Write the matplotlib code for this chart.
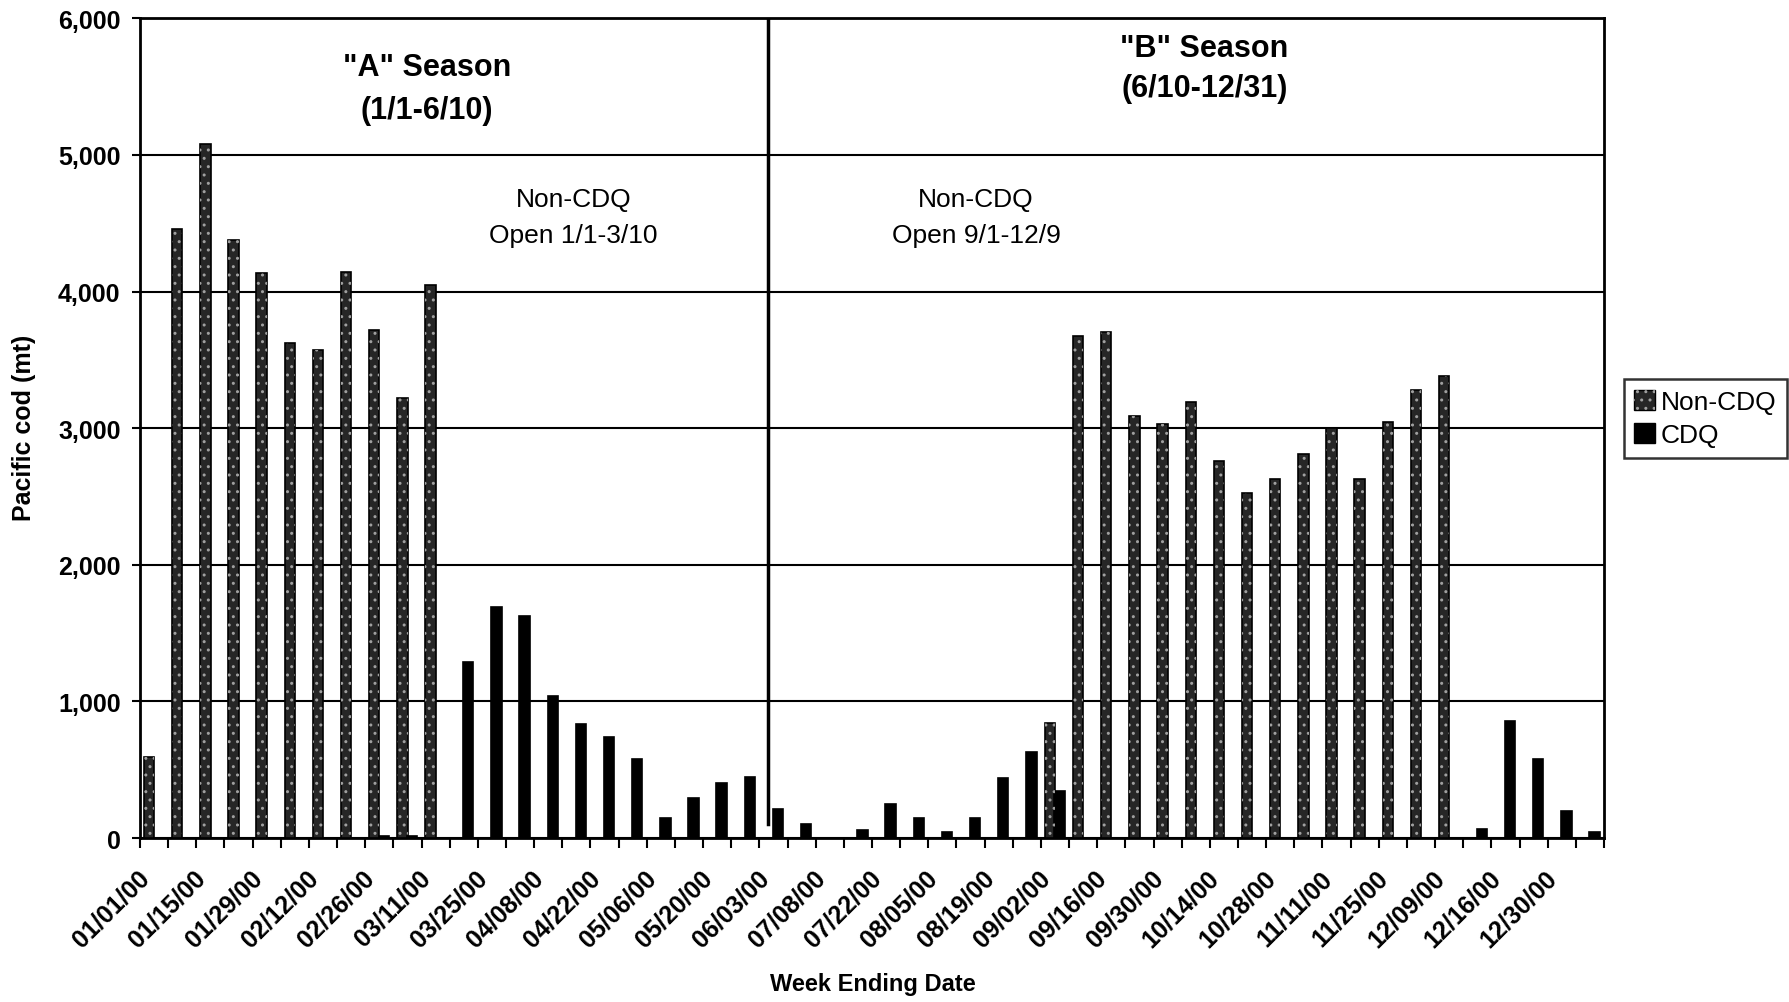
import matplotlib
matplotlib.use("Agg")
import matplotlib.pyplot as plt
import numpy as np
from matplotlib.legend_handler import HandlerTuple
from matplotlib.patches import Patch
from matplotlib.ticker import FuncFormatter

plt.rcParams['font.family'] = ['Liberation Sans', 'DejaVu Sans']

# ---- data ----
tick_labels = ["01/01/00", "01/15/00", "01/29/00", "02/12/00", "02/26/00", "03/11/00",
               "03/25/00", "04/08/00", "04/22/00", "05/06/00", "05/20/00", "06/03/00",
               "07/08/00", "07/22/00", "08/05/00", "08/19/00", "09/02/00", "09/16/00",
               "09/30/00", "10/14/00", "10/28/00", "11/11/00", "11/25/00", "12/09/00",
               "12/16/00", "12/30/00"]

non_cdq = [590, 4460, 5080, 4375, 4135, 3625, 3575, 4140, 3720, 3220, 4050,
           0, 0, 0, 0, 0, 0, 0, 0, 0, 0, 0, 0, 0, 0, 0, 0, 0, 0, 0, 0, 0,
           840, 3675, 3705, 3090, 3030, 3190, 2760, 2525, 2625, 2810, 3005,
           2625, 3045, 3280, 3385, 0, 0, 0, 0, 0]

cdq = [0, 0, 0, 0, 0, 0, 0, 0, 15, 15, 0,
       1285, 1690, 1625, 1040, 835, 738, 575, 145, 295, 402, 443,
       210, 100, 0, 60, 250, 150, 45, 150, 440, 630, 345,
       0, 0, 0, 0, 0, 0, 0, 0, 0, 0, 0, 0, 0, 0,
       65, 860, 580, 195, 45]

series_names = ["Non-CDQ", "CDQ"]
y_ticks = [0, 1000, 2000, 3000, 4000, 5000, 6000]

n = len(non_cdq)
x = np.arange(n)

fig = plt.figure(figsize=(17.9, 10.03), dpi=100)
ax = fig.add_axes([0.0782, 0.1635, 0.8179, 0.8172])

w = 0.37
ax.bar(x - 0.18, non_cdq, width=w, color='#262626', edgecolor='black', linewidth=1.2, zorder=3)
ax.bar(x - 0.18, non_cdq, width=w, fill=False, edgecolor='#a0a0a0', hatch='..', linewidth=0, zorder=4)
ax.bar(x + 0.16, cdq, width=w, color='black', edgecolor='black', linewidth=1.2, zorder=3)

ax.set_xlim(-0.5, n - 0.5)
ax.set_ylim(0, 6000)
ax.set_yticks(y_ticks)
ax.yaxis.set_major_formatter(FuncFormatter(lambda v, p: f"{int(v):,}"))
for t in ax.get_yticklabels():
    t.set_fontweight('bold')
ax.tick_params(axis='y', labelsize=18, length=6, width=1.5, pad=8, direction='out')

# x: tick marks at category boundaries, labels every other category
ax.set_xticks(np.arange(-0.5, n, 1.0))
ax.set_xticklabels([])
ax.tick_params(axis='x', which='major', length=7, width=1.5, direction='out')
ax.set_xticks(np.arange(0, n, 2) - 0.3, minor=True)
ax.set_xticklabels(tick_labels, minor=True, rotation=45, ha='right', va='center',
                   rotation_mode='anchor', fontsize=18, fontweight='bold')
ax.tick_params(axis='x', which='minor', length=0, pad=26)

ax.grid(axis='y', color='black', linewidth=1.5, zorder=1)
for s in ax.spines.values():
    s.set_linewidth(2)
    s.set_color('black')

# season divider
ax.plot([21.8, 21.8], [100, 6000], color='black', linewidth=2.5, zorder=5)

ax.text(9.7, 5644, '"A" Season', ha='center', va='center', fontsize=22, fontweight='bold')
ax.text(9.7, 5329, '(1/1-6/10)', ha='center', va='center', fontsize=22, fontweight='bold')
ax.text(37.3, 5783, '"B" Season', ha='center', va='center', fontsize=22, fontweight='bold')
ax.text(37.3, 5490, '(6/10-12/31)', ha='center', va='center', fontsize=22, fontweight='bold')
ax.text(14.9, 4677, 'Non-CDQ', ha='center', va='center', fontsize=19)
ax.text(14.9, 4414, 'Open 1/1-3/10', ha='center', va='center', fontsize=19)
ax.text(29.2, 4677, 'Non-CDQ', ha='center', va='center', fontsize=19)
ax.text(29.2, 4414, 'Open 9/1-12/9', ha='center', va='center', fontsize=19)

fig.text(0.0135, 0.573, 'Pacific cod (mt)', rotation=90, ha='center', va='center',
         fontsize=18, fontweight='bold')
fig.text(0.4877, 0.018, 'Week Ending Date', ha='center', va='center',
         fontsize=17, fontweight='bold')

h_non = (Patch(facecolor='#262626', edgecolor='black', linewidth=1.0),
         Patch(fill=False, edgecolor='#a0a0a0', hatch='..', linewidth=0))
h_cdq = Patch(facecolor='black', edgecolor='black', linewidth=1.0)
leg = fig.legend([h_non, h_cdq], series_names, loc='upper left',
                 bbox_to_anchor=(0.907, 0.621), bbox_transform=fig.transFigure,
                 handler_map={tuple: HandlerTuple(ndivide=1, pad=0)},
                 fontsize=19, frameon=True, fancybox=False, borderaxespad=0,
                 handlelength=0.8, handleheight=0.8, handletextpad=0.2,
                 borderpad=0.4, labelspacing=0.35)
leg.get_frame().set_edgecolor('black')
leg.get_frame().set_linewidth(1.8)

fig.savefig('out.png', dpi=100)
